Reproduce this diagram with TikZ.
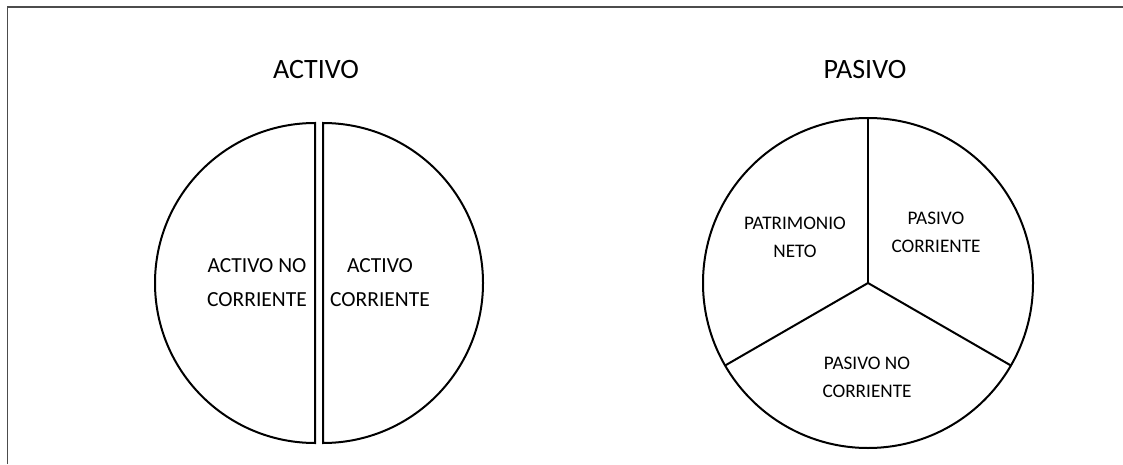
\documentclass[tikz,border=0pt]{standalone}
\usepackage{fontspec}
\setmainfont{Carlito}

\tikzstyle{title} = [font=\fontsize{28}{32}\selectfont, inner sep=0pt]
\tikzstyle{leftpart} = [font=\fontsize{21.5}{34}\selectfont, align=center, inner sep=0pt]
\tikzstyle{rightpart} = [font=\fontsize{19.2}{28}\selectfont, align=center, inner sep=0pt]
\tikzstyle{outline} = [line width=2pt, draw=black]
\tikzstyle{frame} = [line width=1.6pt, draw=black!70]

\begin{document}
\begin{tikzpicture}[x=1pt, y=1pt]

\useasboundingbox (0,0) rectangle (1123,464);

% Frame
\draw [frame] (7.5,0) -- (7.5,457) -- (1123,457);

% Define nodes
\node (activo) [title] at (316,394) {ACTIVO};
\node (pasivo) [title] at (865,394) {PASIVO};
\coordinate (lc) at (315,181);
\coordinate (rc) at (323,181);
\coordinate (pc) at (868,181);

% Two half circles
\draw [outline] (lc) ++(0,160) arc[start angle=90, end angle=270, radius=160] -- cycle;
\draw [outline] (rc) ++(0,160) arc[start angle=90, end angle=-90, radius=160] -- cycle;

% Pie in three parts
\draw [outline] (pc) circle[radius=165];
\draw [outline] (pc) -- ++(90:165);
\draw [outline] (pc) -- ++(210:165);
\draw [outline] (pc) -- ++(330:165);

% Labels
\node (anc) [leftpart] at (257,181) {ACTIVO NO\\CORRIENTE};
\node (ac) [leftpart] at (380,181) {ACTIVO\\CORRIENTE};
\node (pn) [rightpart] at (795,227) {PATRIMONIO\\NETO};
\node (pcte) [rightpart] at (936,232) {PASIVO\\CORRIENTE};
\node (pnc) [rightpart] at (867,87) {PASIVO NO\\CORRIENTE};

\end{tikzpicture}
\end{document}
